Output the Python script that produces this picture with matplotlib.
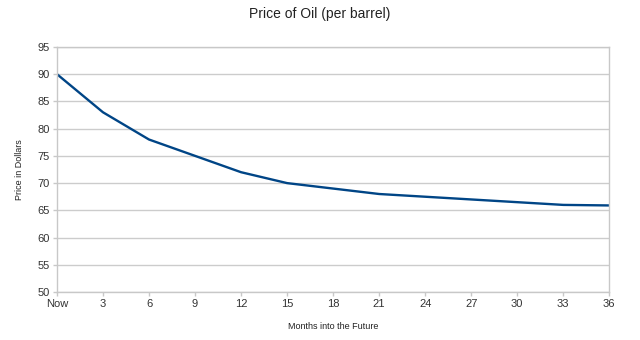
import matplotlib.pyplot as plt

plt.rcParams['font.family'] = ['Liberation Sans', 'DejaVu Sans']

# data
months = [0, 3, 6, 9, 12, 15, 18, 21, 24, 27, 30, 33, 36]
price = [90, 83, 78, 75, 72, 70, 69, 68, 67.5, 67, 66.5, 66, 65.9]
tick_labels = ['Now', '3', '6', '9', '12', '15', '18', '21', '24', '27', '30', '33', '36']
y_ticks = [50, 55, 60, 65, 70, 75, 80, 85, 90, 95]

fig = plt.figure(figsize=(6.4, 3.4), dpi=100)
ax = fig.add_axes([0.089, 0.141, 0.863, 0.721])

ax.plot(months, price, color='#004586', lw=1.7, solid_joinstyle='round')

ax.set_xlim(0, 36)
ax.set_ylim(50, 95)
ax.set_xticks(months)
ax.set_xticklabels(tick_labels)
ax.set_yticks(y_ticks)
ax.grid(axis='y', color='#cccccc', lw=1)
ax.set_axisbelow(True)
for s in ax.spines.values():
    s.set_color('#c8c8c8')
    s.set_linewidth(1)
ax.tick_params(colors='#c8c8c8', labelcolor='#333333', labelsize=8, length=3, width=1, pad=2)

fig.suptitle('Price of Oil (per barrel)', x=0.5, y=0.98, fontsize=10, color='#222222')
ax.set_ylabel('Price in Dollars', fontsize=6.5, color='#222222', labelpad=10)
ax.set_xlabel('Months into the Future', fontsize=6.5, color='#222222', labelpad=9)

plt.savefig('out.png', dpi=100)
plt.close()
